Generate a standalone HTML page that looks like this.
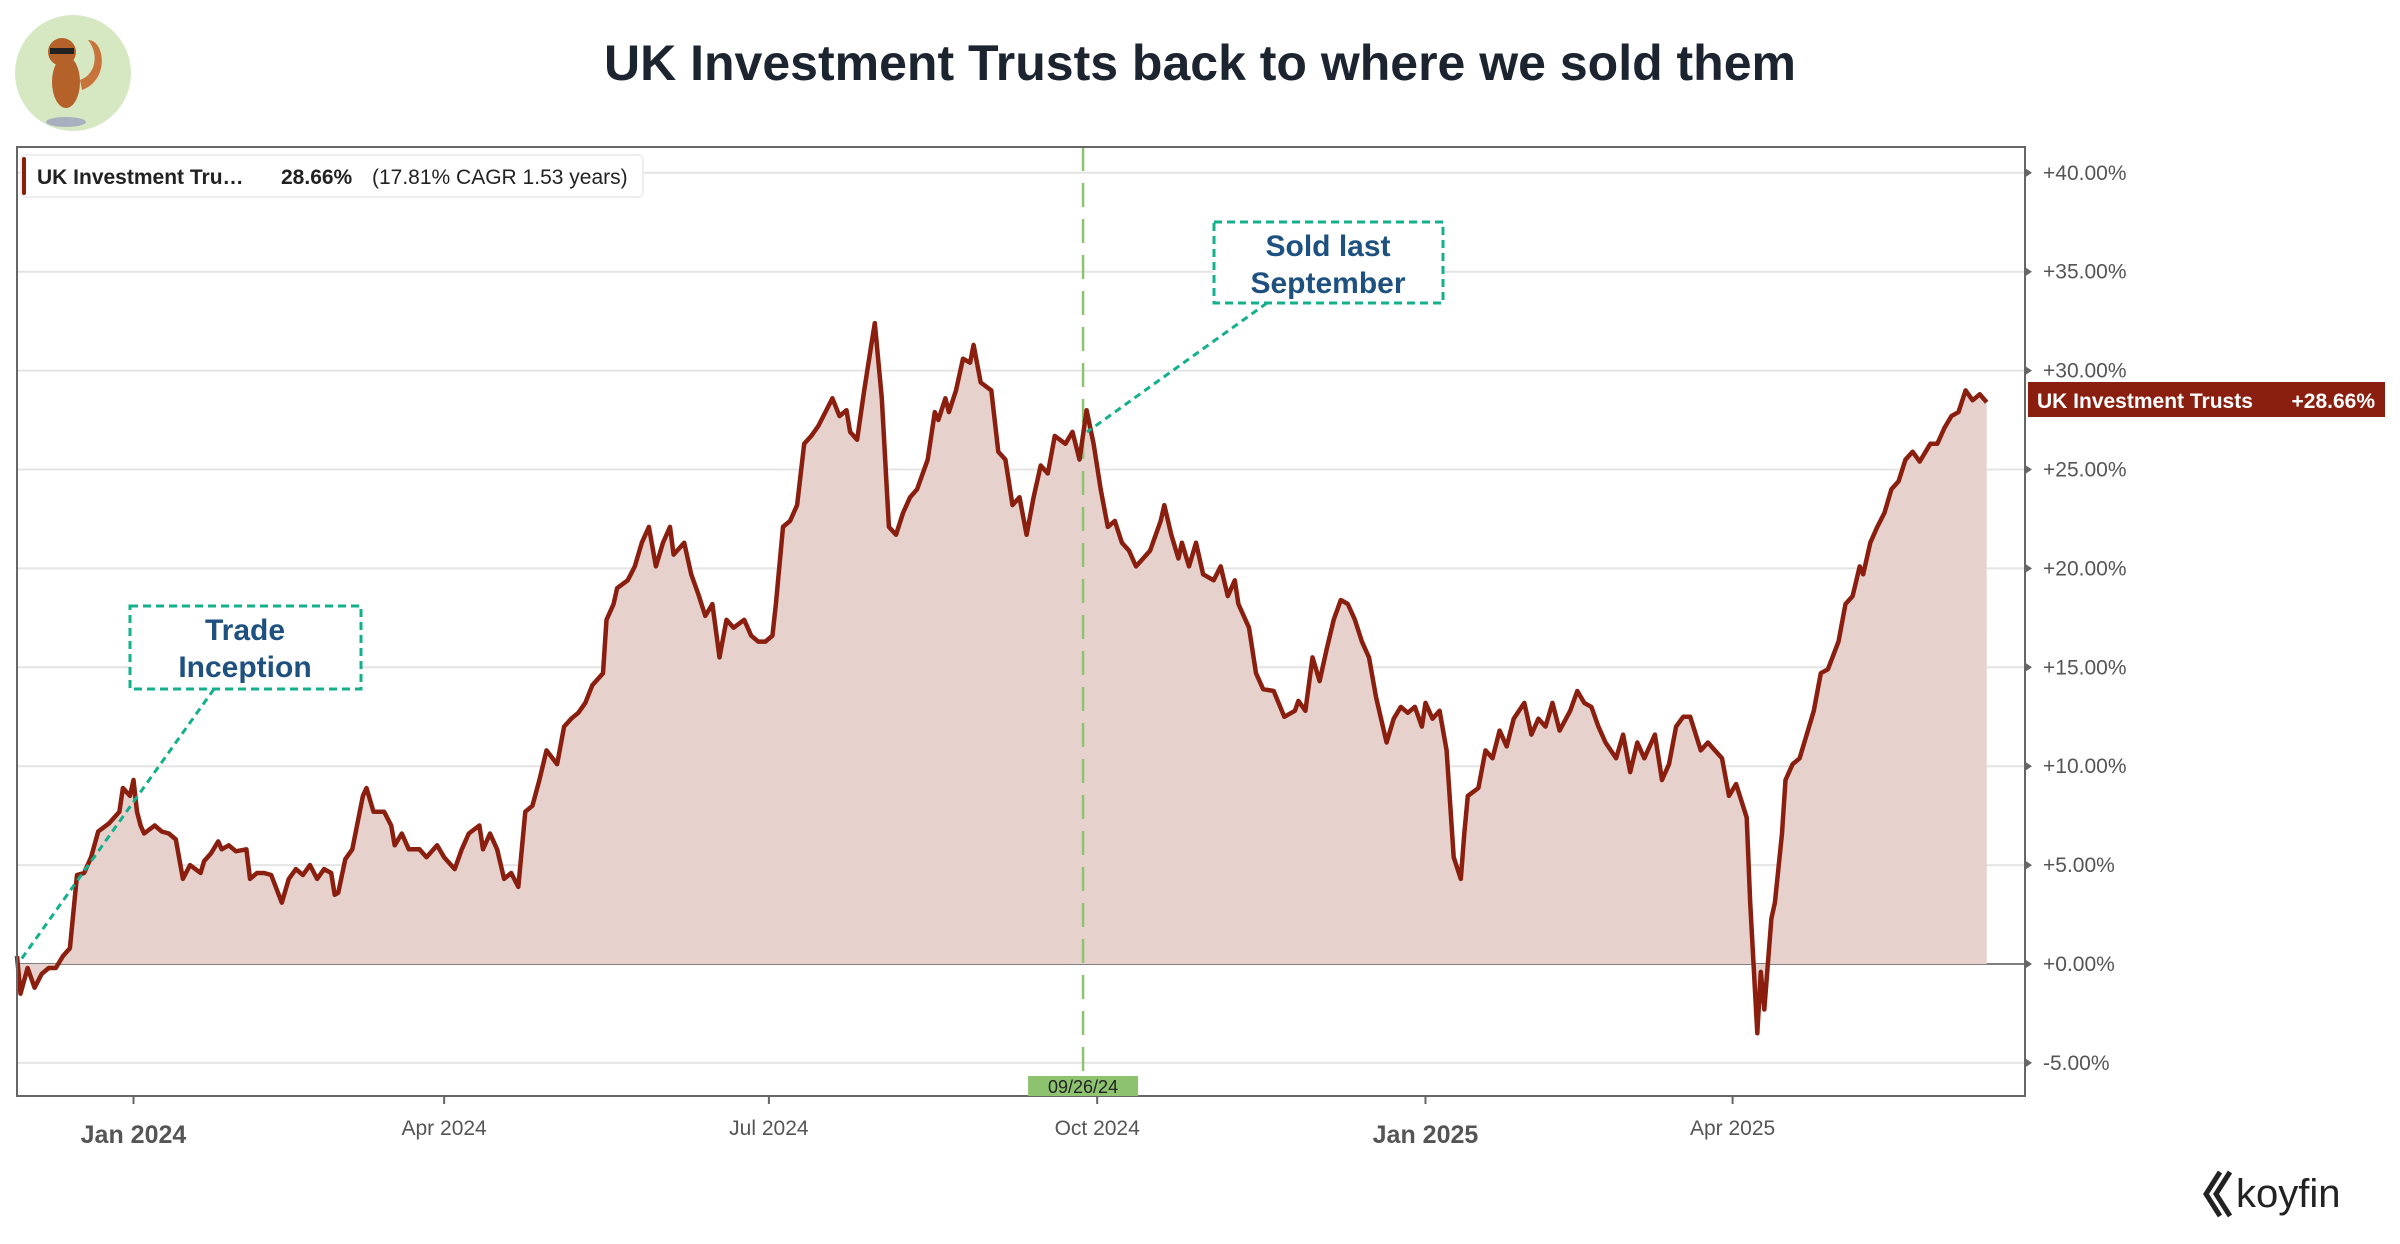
<!DOCTYPE html>
<html><head><meta charset="utf-8"><style>
body{margin:0;background:#fff;width:2400px;height:1239px;overflow:hidden;font-family:"Liberation Sans",sans-serif}
</style></head><body>
<svg id="chart" width="2400" height="1239" xmlns="http://www.w3.org/2000/svg" font-family="Liberation Sans, sans-serif">
<g>
<circle cx="73" cy="73" r="58" fill="#d5e8c2"/>
<ellipse cx="66" cy="82" rx="14" ry="26" fill="#b5622a"/>
<circle cx="62" cy="52" r="14" fill="#b5622a"/>
<rect x="50" y="48" width="24" height="6" fill="#222"/>
<path d="M82 90 C110 80 105 40 88 40 C100 55 95 75 80 80Z" fill="#c8733a"/>
<ellipse cx="66" cy="122" rx="20" ry="5" fill="#a8b0c0"/>
</g>
<text x="1200" y="80" text-anchor="middle" font-size="50" font-weight="bold" fill="#1c2430">UK Investment Trusts back to where we sold them</text>
<g id="grid"></g>
<g id="series"></g>
<rect x="17" y="147" width="2008" height="949" fill="none" stroke="#666" stroke-width="2"/>
<g id="axes"></g>
<g>
<rect x="21" y="155" width="622" height="42" rx="5" fill="#fff" stroke="#eee" stroke-width="2"/>
<rect x="22" y="157" width="4" height="38" rx="2" fill="#8a1f0f"/>
<text x="37" y="184" font-size="21" font-weight="bold" fill="#222">UK Investment Tru…</text>
<text x="281" y="184" font-size="21" font-weight="bold" fill="#222">28.66%</text>
<text x="372" y="184" font-size="21" fill="#222">(17.81% CAGR 1.53 years)</text>
</g>
<g>
<rect x="2028" y="382" width="357" height="35" fill="#8a1f0f"/>
<text x="2037" y="408" font-size="21" font-weight="bold" fill="#fff">UK Investment Trusts</text>
<text x="2375" y="408" font-size="21" font-weight="bold" fill="#fff" text-anchor="end">+28.66%</text>
</g>
<g>
<line x1="1267" y1="303" x2="1087" y2="432" stroke="#14b08c" stroke-width="3" stroke-dasharray="7,5"/>
<rect x="1214" y="222" width="229" height="81" fill="#fff" stroke="#14b08c" stroke-width="3" stroke-dasharray="8,5"/>
<text x="1328" y="256" text-anchor="middle" font-size="30" font-weight="bold" fill="#1e5080">Sold last</text>
<text x="1328" y="293" text-anchor="middle" font-size="30" font-weight="bold" fill="#1e5080">September</text>
</g>
<g>
<line x1="214" y1="689" x2="20" y2="961" stroke="#14b08c" stroke-width="3" stroke-dasharray="7,5"/>
<rect x="130" y="606" width="231" height="83" fill="#fff" stroke="#14b08c" stroke-width="3" stroke-dasharray="8,5"/>
<text x="245" y="640" text-anchor="middle" font-size="30" font-weight="bold" fill="#1e5080">Trade</text>
<text x="245" y="677" text-anchor="middle" font-size="30" font-weight="bold" fill="#1e5080">Inception</text>
</g>
<g>
<path d="M2220 1172 L2206 1194 L2220 1216 M2230 1172 L2216 1194 L2230 1216" stroke="#222" stroke-width="5" fill="none"/>
<text x="2236" y="1207" font-size="40" fill="#222">koyfin</text>
</g>
</svg>
<script>
const days=[0,1,3,5,7,9,11,13,15,17,19,21,23,26,29,30,32,33,34,35,36,39,41,43,45,47,49,52,53,55,57,58,60,62,65,66,68,70,72,75,77,79,81,83,85,87,89,90,91,93,95,98,99,101,104,106,107,109,111,114,116,119,121,124,126,128,131,132,134,136,138,140,142,144,146,148,150,153,155,157,159,161,163,166,167,169,170,173,175,177,179,181,183,185,186,189,191,193,195,197,199,201,203,206,208,210,212,214,215,217,219,221,223,225,227,229,231,233,235,236,238,240,242,243,245,247,249,251,253,255,258,260,261,263,264,266,268,270,271,273,276,278,280,282,284,286,288,290,292,294,297,299,301,303,305,307,309,311,313,315,317,319,321,324,325,327,329,330,332,334,336,339,341,343,345,346,349,351,353,356,359,362,363,365,367,369,371,373,375,377,379,381,383,385,388,390,392,394,396,398,399,401,403,405,407,409,410,411,414,416,418,420,422,424,427,429,431,433,435,437,440,442,444,446,448,450,453,455,457,459,461,464,466,468,470,472,474,477,479,481,483,485,487,490,491,493,494,495,497,498,500,501,503,505,507,509,511,513,516,518,520,522,523,525,527,529,531,533,535,537,539,542,544,546,548,550,552,554,556,558];
const values=[0.4,-1.5,-0.2,-1.2,-0.5,-0.2,-0.2,0.4,0.8,4.5,4.6,5.4,6.7,7.1,7.7,8.9,8.5,9.3,7.7,7.0,6.6,7.0,6.7,6.6,6.3,4.3,5.0,4.6,5.2,5.6,6.2,5.8,6.0,5.7,5.8,4.3,4.6,4.6,4.5,3.1,4.3,4.8,4.5,5.0,4.3,4.8,4.6,3.5,3.6,5.3,5.8,8.5,8.9,7.7,7.7,7.0,6.0,6.6,5.8,5.8,5.4,6.0,5.4,4.8,5.8,6.6,7.0,5.8,6.6,5.8,4.3,4.6,3.9,7.7,8.0,9.3,10.8,10.1,12.0,12.4,12.7,13.2,14.1,14.7,17.4,18.2,19.0,19.4,20.1,21.3,22.1,20.1,21.3,22.1,20.7,21.3,19.7,18.7,17.6,18.2,15.5,17.4,17.0,17.4,16.6,16.3,16.3,16.6,18.2,22.1,22.4,23.2,26.3,26.7,27.2,27.9,28.6,27.7,28.0,26.9,26.5,29.0,31.3,32.4,28.6,22.1,21.7,22.8,23.6,24.0,25.5,27.9,27.5,28.6,27.9,29.0,30.6,30.4,31.3,29.4,29.0,25.9,25.5,23.2,23.6,21.7,23.6,25.2,24.8,26.7,26.3,26.9,25.5,28.0,26.3,24.0,22.1,22.4,21.3,20.9,20.1,20.5,20.9,22.4,23.2,21.7,20.5,21.3,20.1,21.3,19.7,19.4,20.1,18.6,19.4,18.2,17.0,14.7,13.9,13.8,12.5,12.8,13.3,12.8,15.5,14.3,15.9,17.4,18.4,18.2,17.4,16.3,15.5,13.5,11.2,12.4,13.0,12.7,13.0,12.0,13.2,12.4,12.8,10.8,5.4,4.3,6.6,8.5,8.9,10.8,10.4,11.8,11.0,12.4,13.2,11.6,12.4,12.0,13.2,11.8,12.8,13.8,13.2,13.0,12.0,11.2,10.4,11.6,9.7,11.2,10.4,11.6,9.3,10.1,12.0,12.5,12.5,10.8,11.2,10.8,10.4,8.5,9.1,7.4,3.1,-3.5,-0.4,-2.3,2.3,3.1,6.6,9.3,10.1,10.4,11.6,12.8,14.7,14.9,16.3,18.2,18.6,20.1,19.7,21.3,22.1,22.8,24.0,24.4,25.5,25.9,25.4,26.3,26.3,27.1,27.7,27.9,29.0,28.5,28.8,28.4];
const yTicks=[-5,0,5,10,15,20,25,30,35,40];
const yTickLabels=["-5.00%","+0.00%","+5.00%","+10.00%","+15.00%","+20.00%","+25.00%","+30.00%","+35.00%","+40.00%"];
const xTickDays=[33,121,213,306,399,486];
const xTickLabels=["Jan 2024","Apr 2024","Jul 2024","Oct 2024","Jan 2025","Apr 2025"];
const xTickMajor=[true,false,false,false,true,false];
const markerDay=302;
const markerLabel="09/26/24";

const NS="http://www.w3.org/2000/svg";
const X=d=>17+d*3.53;
const Y=v=>964-v*19.78;
function mk(tag,attrs,parent){const e=document.createElementNS(NS,tag);for(const k in attrs)e.setAttribute(k,attrs[k]);parent.appendChild(e);return e;}
const grid=document.getElementById('grid'),series=document.getElementById('series'),axes=document.getElementById('axes');
yTicks.forEach((t,i)=>{
  const g=mk('line',{x1:17,x2:2025,y1:Y(t),y2:Y(t),stroke:t===0?'#555':'#e4e4e4','stroke-width':t===0?1.5:2},grid);
  
  
  const tk=mk('path',{d:`M2026 ${Y(t)-4} L2032 ${Y(t)} L2026 ${Y(t)+4}Z`,fill:'#666'},axes);
  
  
  const tx=mk('text',{x:2043,y:Y(t)+7,'font-size':21,fill:'#555'},axes);
  tx.textContent=yTickLabels[i];
  
  
});
const n=Math.min(days.length,values.length);
let d='';for(let i=0;i<n;i++)d+=(i?'L':'M')+X(days[i]).toFixed(1)+' '+Y(values[i]).toFixed(1);
const area=mk('path',{d:d+`L${X(days[n-1])} ${Y(0)}L${X(days[0])} ${Y(0)}Z`,fill:'#e7d1cd'},series);


const ml=mk('line',{x1:X(markerDay),x2:X(markerDay),y1:147,y2:1076,stroke:'#8dc26f','stroke-width':2.5,'stroke-dasharray':'24,12'},series);


const line=mk('path',{d:d,fill:'none',stroke:'#8a1f0f','stroke-width':4.5,'stroke-linejoin':'round'},series);


const mb=mk('rect',{x:X(markerDay)-55,y:1076,width:110,height:20,fill:'#8dc26f'},axes);


const mt=mk('text',{x:X(markerDay),y:1093,'text-anchor':'middle','font-size':18,fill:'#222'},axes);
mt.textContent=markerLabel;


xTickDays.forEach((t,i)=>{
  const tk=mk('line',{x1:X(t),x2:X(t),y1:1096,y2:1104,stroke:'#666','stroke-width':2},axes);
  
  
  const tx=mk('text',{x:X(t),y:xTickMajor[i]?1143:1135,'text-anchor':'middle','font-size':xTickMajor[i]?25:21,'font-weight':xTickMajor[i]?'bold':'normal',fill:'#555'},axes);
  tx.textContent=xTickLabels[i];
  
  
});
</script>
</body></html>
